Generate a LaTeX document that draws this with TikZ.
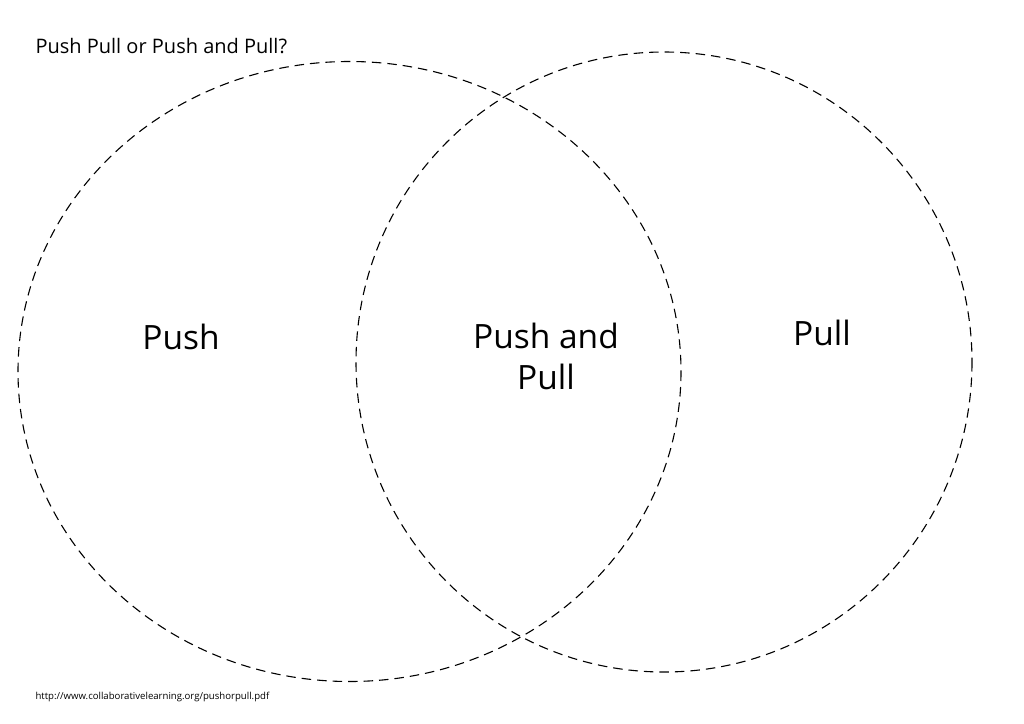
\documentclass[tikz,border=0pt]{standalone}
\usepackage{fontspec}
\setmainfont{Open Sans}
\begin{document}
\begin{tikzpicture}[x=1pt,y=-1pt,
  venn/.style={draw=black, line width=1.1pt, dash pattern=on 9.5pt off 6pt},
  big/.style={font=\fontsize{33.5}{41}\selectfont, align=center},
  title/.style={font=\fontsize{20}{24}\selectfont, anchor=west},
  foot/.style={font=\fontsize{9.6}{11}\selectfont, anchor=west}]
\useasboundingbox (0,0) rectangle (1024,723);
\draw[venn] (349.5,371.5) ellipse [x radius=331.5, y radius=310];
\draw[venn] (664,362) ellipse [x radius=308, y radius=310];
\node[title] (t) at (32,46) {Push Pull or Push and Pull?};
\node[big] (push) at (181,337) {Push};
\node[big] (both) at (546,356) {Push and\\Pull};
\node[big] (pull) at (822,333) {Pull};
\node[foot] (url) at (32,697) {http://www.collaborativelearning.org/pushorpull.pdf};
\end{tikzpicture}
\end{document}
